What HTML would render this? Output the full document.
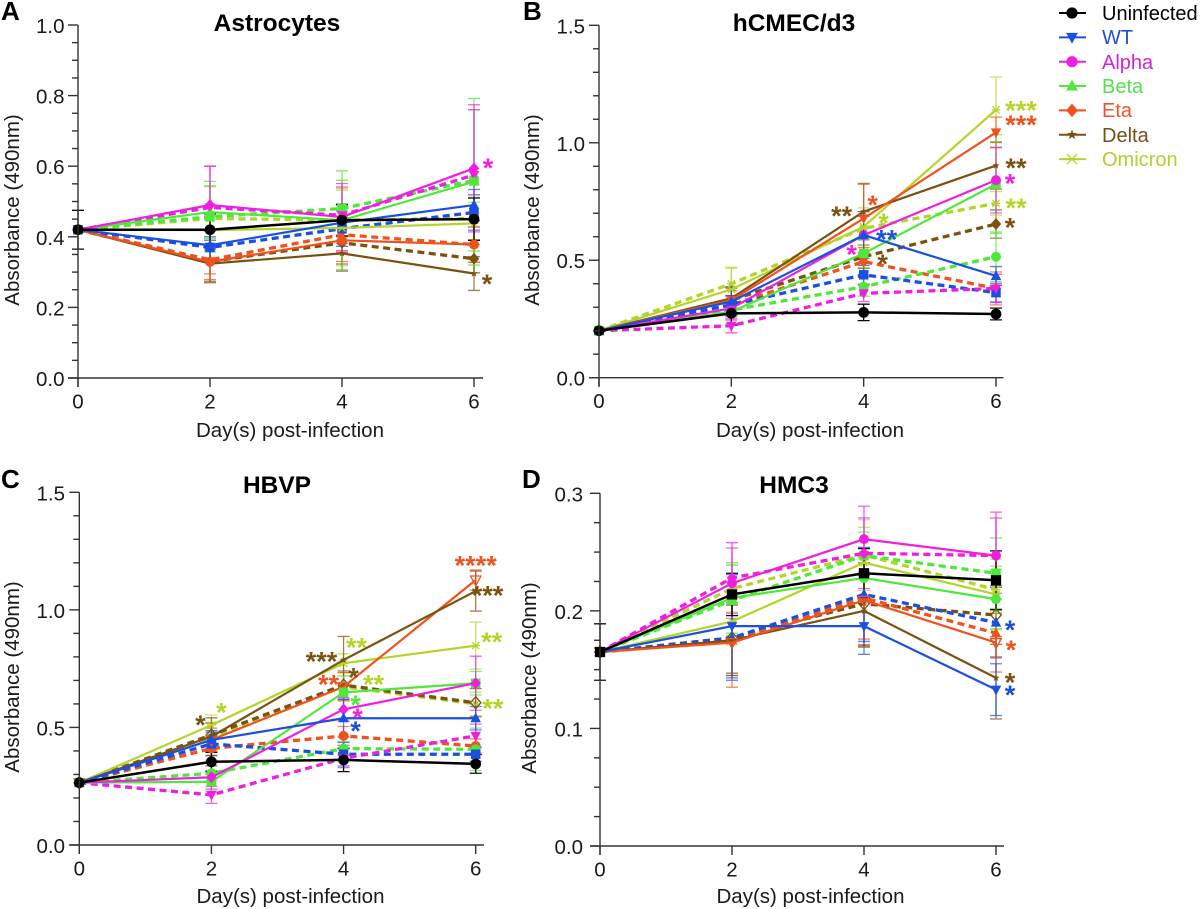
<!DOCTYPE html>
<html lang="en">
<head>
<meta charset="utf-8">
<title>Absorbance over days post-infection</title>
<style>
html,body{margin:0;padding:0;background:#fff;width:1200px;height:909px;overflow:hidden}
svg{display:block;filter:blur(0.35px)}
text{font-family:"Liberation Sans",Arial,sans-serif;fill:#1a1a1a}
.tick{font-size:20.5px}
.ax{font-size:20.5px}
.ttl{font-size:24.5px;font-weight:bold;fill:#000;text-anchor:middle}
.let{font-size:26px;font-weight:bold;fill:#000}
.leg{font-size:20px}
</style>
</head>
<body>
<svg id="figure" xmlns="http://www.w3.org/2000/svg" width="1200" height="909" viewBox="0 0 1200 909">
  <rect width="1200" height="909" fill="#fff"/>
  <text class="let" x="1" y="20">A</text>
  <text class="let" x="523" y="20">B</text>
  <text class="let" x="1" y="488">C</text>
  <text class="let" x="522" y="488">D</text>

  <text class="ttl" x="277" y="31">Astrocytes</text>
  <text class="ttl" x="794" y="31">hCMEC/d3</text>
  <text class="ttl" x="277" y="493">HBVP</text>
  <text class="ttl" x="794" y="493">HMC3</text>

  <text class="ax" x="290" y="437" text-anchor="middle">Day(s) post-infection</text>
  <text class="ax" x="810" y="437" text-anchor="middle">Day(s) post-infection</text>
  <text class="ax" x="290.5" y="903" text-anchor="middle">Day(s) post-infection</text>
  <text class="ax" x="810.5" y="903" text-anchor="middle">Day(s) post-infection</text>

  <text class="ax" transform="translate(19,210) rotate(-90)" text-anchor="middle">Absorbance (490nm)</text>
  <text class="ax" transform="translate(539,210) rotate(-90)" text-anchor="middle">Absorbance (490nm)</text>
  <text class="ax" transform="translate(19,677) rotate(-90)" text-anchor="middle">Absorbance (490nm)</text>
  <text class="ax" transform="translate(536,678) rotate(-90)" text-anchor="middle">Absorbance (490nm)</text>

  <g>
    <text class="leg" x="1102" y="20" style="fill:#000">Uninfected</text>
    <text class="leg" x="1102" y="44" style="fill:#1f4fd8">WT</text>
    <text class="leg" x="1102" y="69" style="fill:#d522cf">Alpha</text>
    <text class="leg" x="1102" y="93" style="fill:#55e050">Beta</text>
    <text class="leg" x="1102" y="117" style="fill:#e8552a">Eta</text>
    <text class="leg" x="1102" y="142" style="fill:#75501a">Delta</text>
    <text class="leg" x="1102" y="166" style="fill:#aed12e">Omicron</text>
  </g>
</svg>

<script>
// ---------- shared data ----------
const days = [0, 2, 4, 6];

// ---------- panel A: Astrocytes ----------
const aTicks = [0, 0.2, 0.4, 0.6, 0.8, 1.0];
const aTickLabels = ['0.0', '0.2', '0.4', '0.6', '0.8', '1.0'];
const aMinorTicks = [0.05, 0.1, 0.15, 0.25, 0.3, 0.35, 0.45, 0.5, 0.55, 0.65, 0.7, 0.75, 0.85, 0.9, 0.95];
const aUninfected = [0.42, 0.42, 0.447, 0.45];
const aWT = [0.42, 0.376, 0.44, 0.49];
const aWTd = [0.42, 0.37, 0.423, 0.469];
const aAlpha = [0.42, 0.49, 0.456, 0.594];
const aAlphad = [0.42, 0.483, 0.461, 0.575];
const aBeta = [0.42, 0.47, 0.447, 0.556];
const aBetad = [0.42, 0.457, 0.48, 0.56];
const aEta = [0.42, 0.329, 0.39, 0.378];
const aEtad = [0.42, 0.335, 0.406, 0.378];
const aDelta = [0.42, 0.324, 0.353, 0.296];
const aDeltad = [0.42, 0.33, 0.383, 0.338];
const aOmicron = [0.42, 0.419, 0.425, 0.438];
const aOmicrond = [0.42, 0.452, 0.447, 0.452];
const aUninfectedErr = [0.055, 0.045, 0.045, 0.06];
const aWTErr = [0, 0.04, 0.05, 0.044];
const aWTdErr = [0, 0.03, 0.05, 0.05];
const aAlphaErr = [0, 0.11, 0.095, 0.18];
const aAlphadErr = [0, 0.117, 0.08, 0.185];
const aBetaErr = [0, 0.075, 0.14, 0.236];
const aBetadErr = [0, 0.1, 0.08, 0.2];
const aEtaErr = [0, 0.05, 0.06, 0.05];
const aEtadErr = [0, 0.04, 0.05, 0.05];
const aDeltaErr = [0, 0.05, 0.05, 0.048];
const aDeltadErr = [0, 0.06, 0.06, 0.04];
const aOmicronErr = [0, 0.04, 0.107, 0.06];
const aOmicrondErr = [0, 0.09, 0.09, 0.06];

// ---------- panel B: hCMEC/d3 ----------
const bTicks = [0, 0.5, 1.0, 1.5];
const bTickLabels = ['0.0', '0.5', '1.0', '1.5'];
const bMinorTicks = [0.1, 0.2, 0.3, 0.4, 0.6, 0.7, 0.8, 0.9, 1.1, 1.2, 1.3, 1.4];
const bUninfected = [0.2, 0.274, 0.278, 0.271];
const bWT = [0.2, 0.324, 0.607, 0.433];
const bWTd = [0.2, 0.31, 0.438, 0.362];
const bAlpha = [0.2, 0.295, 0.607, 0.841];
const bAlphad = [0.2, 0.221, 0.359, 0.38];
const bBeta = [0.2, 0.281, 0.529, 0.824];
const bBetad = [0.2, 0.288, 0.387, 0.515];
const bEta = [0.2, 0.33, 0.678, 1.044];
const bEtad = [0.2, 0.31, 0.494, 0.38];
const bDelta = [0.2, 0.338, 0.707, 0.903];
const bDeltad = [0.2, 0.33, 0.515, 0.654];
const bOmicron = [0.2, 0.376, 0.643, 1.14];
const bOmicrond = [0.2, 0.4, 0.636, 0.742];
const bUninfectedErr = [0, 0.05, 0.035, 0.025];
const bWTErr = [0, 0.06, 0.1, 0.04];
const bWTdErr = [0, 0.04, 0.04, 0.04];
const bAlphaErr = [0, 0.05, 0.08, 0.14];
const bAlphadErr = [0, 0.03, 0.035, 0.06];
const bBetaErr = [0, 0.05, 0.06, 0.21];
const bBetadErr = [0, 0.03, 0.04, 0.105];
const bEtaErr = [0, 0.05, 0.145, 0.065];
const bEtadErr = [0, 0.04, 0.06, 0.07];
const bDeltaErr = [0, 0.05, 0.12, 0.1];
const bDeltadErr = [0, 0.04, 0.05, 0.06];
const bOmicronErr = [0, 0.09, 0.08, 0.14];
const bOmicrondErr = [0, 0.07, 0.07, 0.05];

// ---------- panel C: HBVP ----------
const cTicks = [0, 0.5, 1.0, 1.5];
const cTickLabels = ['0.0', '0.5', '1.0', '1.5'];
const cMinorTicks = [0.1, 0.2, 0.3, 0.4, 0.6, 0.7, 0.8, 0.9, 1.1, 1.2, 1.3, 1.4];
const cUninfected = [0.265, 0.354, 0.362, 0.345];
const cWT = [0.265, 0.447, 0.539, 0.539];
const cWTd = [0.265, 0.43, 0.386, 0.386];
const cAlpha = [0.265, 0.288, 0.577, 0.688];
const cAlphad = [0.265, 0.213, 0.369, 0.464];
const cBeta = [0.265, 0.269, 0.649, 0.688];
const cBetad = [0.265, 0.305, 0.41, 0.407];
const cEta = [0.265, 0.447, 0.673, 1.127];
const cEtad = [0.265, 0.411, 0.464, 0.421];
const cDelta = [0.265, 0.461, 0.787, 1.08];
const cDeltad = [0.265, 0.468, 0.68, 0.605];
const cOmicron = [0.265, 0.51, 0.773, 0.848];
const cOmicrond = [0.265, 0.461, 0.673, 0.6];
const cUninfectedErr = [0, 0.04, 0.05, 0.04];
const cWTErr = [0, 0.04, 0.08, 0.05];
const cWTdErr = [0, 0.05, 0.05, 0.03];
const cAlphaErr = [0, 0.05, 0.05, 0.115];
const cAlphadErr = [0, 0.036, 0.04, 0.05];
const cBetaErr = [0, 0.04, 0.07, 0.05];
const cBetadErr = [0, 0.03, 0.03, 0.09];
const cEtaErr = [0, 0.05, 0.06, 0.043];
const cEtadErr = [0, 0.05, 0.04, 0.03];
const cDeltaErr = [0, 0.08, 0.1, 0.085];
const cDeltadErr = [0, 0.05, 0.06, 0.06];
const cOmicronErr = [0, 0.043, 0.04, 0.1];
const cOmicrondErr = [0, 0.06, 0.06, 0.05];

// ---------- panel D: HMC3 ----------
const dTicks = [0, 0.1, 0.2, 0.3];
const dTickLabels = ['0.0', '0.1', '0.2', '0.3'];
const dMinorTicks = [0.025, 0.05, 0.075, 0.125, 0.15, 0.175, 0.225, 0.25, 0.275];
const dUninfected = [0.165, 0.214, 0.232, 0.226];
const dWT = [0.165, 0.187, 0.187, 0.133];
const dWTd = [0.165, 0.177, 0.214, 0.19];
const dAlpha = [0.165, 0.2235, 0.261, 0.247];
const dAlphad = [0.165, 0.228, 0.249, 0.247];
const dBeta = [0.165, 0.211, 0.228, 0.21];
const dBetad = [0.165, 0.209, 0.247, 0.232];
const dEta = [0.165, 0.173, 0.209, 0.173];
const dEtad = [0.165, 0.175, 0.211, 0.181];
const dDelta = [0.165, 0.175, 0.2, 0.143];
const dDeltad = [0.165, 0.177, 0.206, 0.1965];
const dOmicron = [0.165, 0.191, 0.241, 0.214];
const dOmicrond = [0.165, 0.219, 0.2475, 0.218];
const dUninfectedErr = [0.024, 0.018, 0.021, 0.025];
const dWTErr = [0, 0.044, 0.024, 0.022];
const dWTdErr = [0, 0.036, 0.04, 0.03];
const dAlphaErr = [0, 0.03, 0.028, 0.037];
const dAlphadErr = [0, 0.03, 0.03, 0.032];
const dBetaErr = [0, 0.03, 0.02, 0.025];
const dBetadErr = [0, 0.03, 0.02, 0.03];
const dEtaErr = [0, 0.038, 0.04, 0.025];
const dEtadErr = [0, 0.03, 0.035, 0.02];
const dDeltaErr = [0, 0.03, 0.03, 0.035];
const dDeltadErr = [0, 0.03, 0.035, 0.025];
const dOmicronErr = [0, 0.02, 0.03, 0.03];
const dOmicrondErr = [0, 0.02, 0.03, 0.02];

// ---------- legend ----------
const legendNames = ['uninfected', 'wt', 'alpha', 'beta', 'eta', 'delta', 'omicron'];

// ---------- styles ----------
const COL = {
  black: '#000000', blue: '#1a4fe0', magenta: '#f01fe0', green: '#4ee83a',
  orange: '#f0521e', brown: '#7a5210', olive: '#b5d42a'
};
const SVGNS = 'http://www.w3.org/2000/svg';
const fig = document.getElementById('figure');

function el(tag, attrs, parent) {
  const n = document.createElementNS(SVGNS, tag);
  for (const k in attrs) n.setAttribute(k, attrs[k]);
  parent.appendChild(n);
  return n;
}

function ser(key, label, vals, errs, color, dashed, marker, open) {
  return { key, label, vals, errs, color, dashed, marker, open: !!open };
}

const panels = [
  {
    id: 'a', x0: 78, x6: 474, xEnd: 483, yBase: 378, yTop: 25, yMax: 1.0, labelRight: 64.5,
    ticks: aTicks, tickLabels: aTickLabels, minor: aMinorTicks,
    series: [
      ser('delta-dashed', 'delta', aDeltad, aDeltadErr, COL.brown, true, 'diamond'),
      ser('omicron-dashed', 'omicron', aOmicrond, aOmicrondErr, COL.olive, true, 'cross'),
      ser('eta-dashed', 'eta', aEtad, aEtadErr, COL.orange, true, 'star'),
      ser('beta-dashed', 'beta', aBetad, aBetadErr, COL.green, true, 'square'),
      ser('wt-dashed', 'wt', aWTd, aWTdErr, COL.blue, true, 'square'),
      ser('alpha-dashed', 'alpha', aAlphad, aAlphadErr, COL.magenta, true, 'inv'),
      ser('omicron', 'omicron', aOmicron, aOmicronErr, COL.olive, false, 'cross'),
      ser('delta', 'delta', aDelta, aDeltaErr, COL.brown, false, 'star'),
      ser('eta', 'eta', aEta, aEtaErr, COL.orange, false, 'circle'),
      ser('beta', 'beta', aBeta, aBetaErr, COL.green, false, 'tri'),
      ser('wt', 'wt', aWT, aWTErr, COL.blue, false, 'tri'),
      ser('alpha', 'alpha', aAlpha, aAlphaErr, COL.magenta, false, 'diamond'),
      ser('uninfected', 'uninfected', aUninfected, aUninfectedErr, COL.black, false, 'circle')
    ],
    notes: [
      { of: aAlpha, at: 3, text: '*', color: COL.magenta, dx: 14, dy: -5 },
      { of: aDelta, at: 3, text: '*', color: COL.brown, dx: 13, dy: 6 }
    ]
  },
  {
    id: 'b', x0: 599, x6: 996, xEnd: 1003.5, yBase: 377.7, yTop: 25.3, yMax: 1.5, labelRight: 585,
    ticks: bTicks, tickLabels: bTickLabels, minor: bMinorTicks,
    series: [
      ser('delta-dashed', 'delta', bDeltad, bDeltadErr, COL.brown, true, 'diamond'),
      ser('omicron-dashed', 'omicron', bOmicrond, bOmicrondErr, COL.olive, true, 'cross'),
      ser('eta-dashed', 'eta', bEtad, bEtadErr, COL.orange, true, 'diamond'),
      ser('beta-dashed', 'beta', bBetad, bBetadErr, COL.green, true, 'circle'),
      ser('wt-dashed', 'wt', bWTd, bWTdErr, COL.blue, true, 'square'),
      ser('alpha-dashed', 'alpha', bAlphad, bAlphadErr, COL.magenta, true, 'inv'),
      ser('omicron', 'omicron', bOmicron, bOmicronErr, COL.olive, false, 'cross'),
      ser('delta', 'delta', bDelta, bDeltaErr, COL.brown, false, 'star'),
      ser('eta', 'eta', bEta, bEtaErr, COL.orange, false, 'inv'),
      ser('beta', 'beta', bBeta, bBetaErr, COL.green, false, 'square'),
      ser('alpha', 'alpha', bAlpha, bAlphaErr, COL.magenta, false, 'circle'),
      ser('wt', 'wt', bWT, bWTErr, COL.blue, false, 'tri'),
      ser('uninfected', 'uninfected', bUninfected, bUninfectedErr, COL.black, false, 'circle')
    ],
    notes: [
      { of: bOmicron, at: 3, text: '***', color: COL.olive, dx: 25, dy: -4 },
      { of: bEta, at: 3, text: '***', color: COL.orange, dx: 25, dy: -12 },
      { of: bDelta, at: 3, text: '**', color: COL.brown, dx: 20, dy: -2 },
      { of: bAlpha, at: 3, text: '*', color: COL.magenta, dx: 14, dy: -1 },
      { of: bOmicrond, at: 3, text: '**', color: COL.olive, dx: 20, dy: 0 },
      { of: bDeltad, at: 3, text: '*', color: COL.brown, dx: 14, dy: -1 },
      { of: bEta, at: 2, text: '*', color: COL.orange, dx: 9, dy: -18 },
      { of: bDelta, at: 2, text: '**', color: COL.brown, dx: -22, dy: 0 },
      { of: bOmicron, at: 2, text: '*', color: COL.olive, dx: 20, dy: -8 },
      { of: bWT, at: 2, text: '**', color: COL.blue, dx: 23, dy: 0 },
      { of: bAlpha, at: 2, text: '*', color: COL.magenta, dx: -12, dy: 15 },
      { of: bDeltad, at: 2, text: '*', color: COL.brown, dx: 19, dy: 3 }
    ]
  },
  {
    id: 'c', x0: 79.3, x6: 475.7, xEnd: 484, yBase: 845, yTop: 492.3, yMax: 1.5, labelRight: 65,
    ticks: cTicks, tickLabels: cTickLabels, minor: cMinorTicks,
    series: [
      ser('omicron-dashed', 'omicron', cOmicrond, cOmicrondErr, COL.olive, true, 'cross'),
      ser('delta-dashed', 'delta', cDeltad, cDeltadErr, COL.brown, true, 'diamond', true),
      ser('eta-dashed', 'eta', cEtad, cEtadErr, COL.orange, true, 'circle'),
      ser('beta-dashed', 'beta', cBetad, cBetadErr, COL.green, true, 'circle'),
      ser('wt-dashed', 'wt', cWTd, cWTdErr, COL.blue, true, 'square'),
      ser('alpha-dashed', 'alpha', cAlphad, cAlphadErr, COL.magenta, true, 'inv'),
      ser('omicron', 'omicron', cOmicron, cOmicronErr, COL.olive, false, 'cross'),
      ser('eta', 'eta', cEta, cEtaErr, COL.orange, false, 'inv', true),
      ser('delta', 'delta', cDelta, cDeltaErr, COL.brown, false, 'star'),
      ser('beta', 'beta', cBeta, cBetaErr, COL.green, false, 'square'),
      ser('alpha', 'alpha', cAlpha, cAlphaErr, COL.magenta, false, 'diamond'),
      ser('wt', 'wt', cWT, cWTErr, COL.blue, false, 'tri'),
      ser('uninfected', 'uninfected', cUninfected, cUninfectedErr, COL.black, false, 'circle')
    ],
    notes: [
      { of: cEta, at: 3, text: '****', color: COL.orange, dx: 0, dy: -19 },
      { of: cDelta, at: 3, text: '***', color: COL.brown, dx: 12, dy: 0 },
      { of: cOmicron, at: 3, text: '**', color: COL.olive, dx: 16, dy: -8 },
      { of: cOmicrond, at: 3, text: '**', color: COL.olive, dx: 17, dy: 0 },
      { of: cOmicron, at: 2, text: '**', color: COL.olive, dx: 13, dy: -20 },
      { of: cDelta, at: 2, text: '***', color: COL.brown, dx: -22, dy: -3 },
      { of: cDeltad, at: 2, text: '*', color: COL.brown, dx: 10, dy: -12 },
      { of: cEta, at: 2, text: '**', color: COL.orange, dx: -15, dy: -7 },
      { of: cOmicrond, at: 2, text: '**', color: COL.olive, dx: 30, dy: -7 },
      { of: cBeta, at: 2, text: '*', color: COL.green, dx: 12, dy: 8 },
      { of: cAlpha, at: 2, text: '*', color: COL.magenta, dx: 14, dy: 4 },
      { of: cWT, at: 2, text: '*', color: COL.blue, dx: 12, dy: 8 },
      { of: cDelta, at: 1, text: '*', color: COL.brown, dx: -11, dy: -16 },
      { of: cOmicron, at: 1, text: '*', color: COL.olive, dx: 10, dy: -17 }
    ]
  },
  {
    id: 'd', x0: 600, x6: 996, xEnd: 1004, yBase: 846, yTop: 493.3, yMax: 0.3, labelRight: 583,
    ticks: dTicks, tickLabels: dTickLabels, minor: dMinorTicks,
    series: [
      ser('delta-dashed', 'delta', dDeltad, dDeltadErr, COL.brown, true, 'diamond', true),
      ser('omicron-dashed', 'omicron', dOmicrond, dOmicrondErr, COL.olive, true, 'cross'),
      ser('eta-dashed', 'eta', dEtad, dEtadErr, COL.orange, true, 'tri'),
      ser('beta-dashed', 'beta', dBetad, dBetadErr, COL.green, true, 'square'),
      ser('wt-dashed', 'wt', dWTd, dWTdErr, COL.blue, true, 'tri'),
      ser('alpha-dashed', 'alpha', dAlphad, dAlphadErr, COL.magenta, true, 'diamond'),
      ser('omicron', 'omicron', dOmicron, dOmicronErr, COL.olive, false, 'cross'),
      ser('delta', 'delta', dDelta, dDeltaErr, COL.brown, false, 'star'),
      ser('eta', 'eta', dEta, dEtaErr, COL.orange, false, 'inv', true),
      ser('beta', 'beta', dBeta, dBetaErr, COL.green, false, 'circle'),
      ser('alpha', 'alpha', dAlpha, dAlphaErr, COL.magenta, false, 'circle'),
      ser('wt', 'wt', dWT, dWTErr, COL.blue, false, 'inv'),
      ser('uninfected', 'uninfected', dUninfected, dUninfectedErr, COL.black, false, 'square')
    ],
    notes: [
      { of: dWTd, at: 3, text: '*', color: COL.blue, dx: 14, dy: 3 },
      { of: dEta, at: 3, text: '*', color: COL.orange, dx: 15, dy: 3 },
      { of: dDelta, at: 3, text: '*', color: COL.brown, dx: 14, dy: 0 },
      { of: dWT, at: 3, text: '*', color: COL.blue, dx: 14, dy: 1 }
    ]
  }
];

// ---------- axis functions ----------
function xScale(p, day) {
  return p.x0 + (day / days[days.length - 1]) * (p.x6 - p.x0);
}
function yScale(p, v) {
  return p.yBase - (v / p.yMax) * (p.yBase - p.yTop);
}

// ---------- marker drawing ----------
function polyPts(cx, cy, list) {
  return list.map(function (q) { return (cx + q[0]).toFixed(2) + ',' + (cy + q[1]).toFixed(2); }).join(' ');
}
function starShape(r) {
  const out = [];
  for (let i = 0; i < 10; i++) {
    const a = -Math.PI / 2 + i * Math.PI / 5;
    const rr = i % 2 ? r * 0.42 : r;
    out.push([rr * Math.cos(a), rr * Math.sin(a)]);
  }
  return out;
}
function drawMarker(kind, cx, cy, r, color, open, parent) {
  const fill = open ? 'none' : color;
  const sw = open ? 1.3 : 0;
  if (kind === 'circle') {
    return el('circle', { cx: cx, cy: cy, r: r, fill: fill, stroke: color, 'stroke-width': sw }, parent);
  }
  if (kind === 'square') {
    const s = r * 0.95;
    return el('rect', { x: cx - s, y: cy - s, width: 2 * s, height: 2 * s, fill: fill, stroke: color, 'stroke-width': sw }, parent);
  }
  if (kind === 'cross') {
    const g = el('g', { stroke: color, 'stroke-width': 1.3, fill: 'none' }, parent);
    const s = r * 0.9;
    el('line', { x1: cx - s, y1: cy - s, x2: cx + s, y2: cy + s }, g);
    el('line', { x1: cx - s, y1: cy + s, x2: cx + s, y2: cy - s }, g);
    el('line', { x1: cx - s * 1.2, y1: cy, x2: cx + s * 1.2, y2: cy }, g);
    return g;
  }
  let shape;
  if (kind === 'tri') shape = [[0, -r * 1.15], [r * 1.05, r * 0.8], [-r * 1.05, r * 0.8]];
  else if (kind === 'inv') shape = [[0, r * 1.15], [r * 1.05, -r * 0.8], [-r * 1.05, -r * 0.8]];
  else if (kind === 'diamond') shape = [[0, -r * 1.2], [r * 1.05, 0], [0, r * 1.2], [-r * 1.05, 0]];
  else shape = starShape(r * 0.95);
  return el('polygon', { points: polyPts(cx, cy, shape), fill: fill, stroke: color, 'stroke-width': sw }, parent);
}

// ---------- draw panels ----------
panels.forEach(function (p) {
  const g = el('g', {}, fig);
  
  

  // error bars
  const errLayer = el('g', {}, g);
  
  
  p.series.forEach(function (s) {
    s.errs.forEach(function (e, i) {
      if (!e) return;
      const x = xScale(p, days[i]);
      const top = yScale(p, s.vals[i] + e);
      const bot = yScale(p, s.vals[i] - e);
      const eb = el('path', {
        d: 'M' + (x - 6) + ' ' + top + 'H' + (x + 6) + 'M' + (x - 6) + ' ' + bot + 'H' + (x + 6) + 'M' + x + ' ' + top + 'V' + bot,
        stroke: s.color, 'stroke-width': 1.3, fill: 'none', opacity: s.key === 'uninfected' ? 0.95 : 0.72
      }, errLayer);
      
      
    });
  });

  // series lines and markers
  p.series.forEach(function (s) {
    const sg = el('g', {}, g);
    
    
    const pts = s.vals.map(function (v, i) { return xScale(p, days[i]).toFixed(2) + ',' + yScale(p, v).toFixed(2); }).join(' ');
    const line = el('polyline', {
      points: pts, fill: 'none', stroke: s.color,
      'stroke-width': s.dashed ? 3.3 : (s.key === 'uninfected' ? 2.5 : 2.2),
      'stroke-dasharray': s.dashed ? '7 4.5' : 'none',
      'stroke-linejoin': 'miter'
    }, sg);
    
    
    s.vals.forEach(function (v, i) {
      const base = s.key === 'uninfected' ? 5.4 : 5;
      const r = s.marker === 'star' || s.marker === 'cross' ? 4 : base;
      const m = drawMarker(s.marker, xScale(p, days[i]), yScale(p, v), r, s.color, s.open, sg);
      
      
    });
  });

  // axes
  const axis = el('g', { stroke: '#333', 'stroke-width': 1.4, fill: 'none' }, g);
  
  
  const yLine = el('line', { x1: p.x0, x2: p.x0, y1: p.yTop, y2: p.yBase + 9 }, axis);
  
  
  const xLine = el('line', { x1: p.x0 - 10, x2: p.xEnd, y1: p.yBase, y2: p.yBase }, axis);
  
  

  p.minor.forEach(function (v) {
    const y = yScale(p, v);
    const t = el('line', { x1: p.x0 - 6, x2: p.x0, y1: y, y2: y }, axis);
    
    
  });
  p.ticks.forEach(function (v, i) {
    const y = yScale(p, v);
    const t = el('line', { x1: p.x0 - 10, x2: p.x0, y1: y, y2: y }, axis);
    
    
    const lab = el('text', { x: p.labelRight, y: y + 8, class: 'tick', 'text-anchor': 'end' }, g);
    lab.textContent = p.tickLabels[i];
    
    
  });
  days.forEach(function (d) {
    const x = xScale(p, d);
    const t = el('line', { x1: x, x2: x, y1: p.yBase, y2: p.yBase + 9 }, axis);
    
    
    const lab = el('text', { x: x, y: p.yBase + 30.5, class: 'tick', 'text-anchor': 'middle' }, g);
    lab.textContent = String(d);
    
    
  });

  // significance asterisks, anchored to their series point
  p.notes.forEach(function (n) {
    const fs = 27;
    const x = xScale(p, days[n.at]) + n.dx;
    const y = yScale(p, n.of[n.at]) + n.dy + 0.5 * fs;
    const t = el('text', { x: x, y: y, 'text-anchor': 'middle', 'font-size': fs, 'font-weight': 'bold' }, g);
    t.style.fill = n.color;
    t.textContent = n.text;
    
    
  });
});

// ---------- legend swatches ----------
const legendMarkers = ['circle', 'inv', 'circle', 'tri', 'diamond', 'star', 'cross'];
const legendColors = [COL.black, COL.blue, COL.magenta, COL.green, COL.orange, COL.brown, COL.olive];
const legendRowStart = 13;
const legendRowStep = 24.35;
legendNames.forEach(function (name, i) {
  const y = legendRowStart + i * legendRowStep;
  const sg = el('g', {}, fig);
  
  
  const ln = el('line', { x1: 1059, x2: 1086, y1: y, y2: y, stroke: legendColors[i], 'stroke-width': 2 }, sg);
  
  
  const big = legendMarkers[i] === 'cross' || legendMarkers[i] === 'star';
  const m = drawMarker(legendMarkers[i], 1072, y, big ? 5.6 : 5.6, legendColors[i], false, sg);
  
  
});
</script>
</body>
</html>
